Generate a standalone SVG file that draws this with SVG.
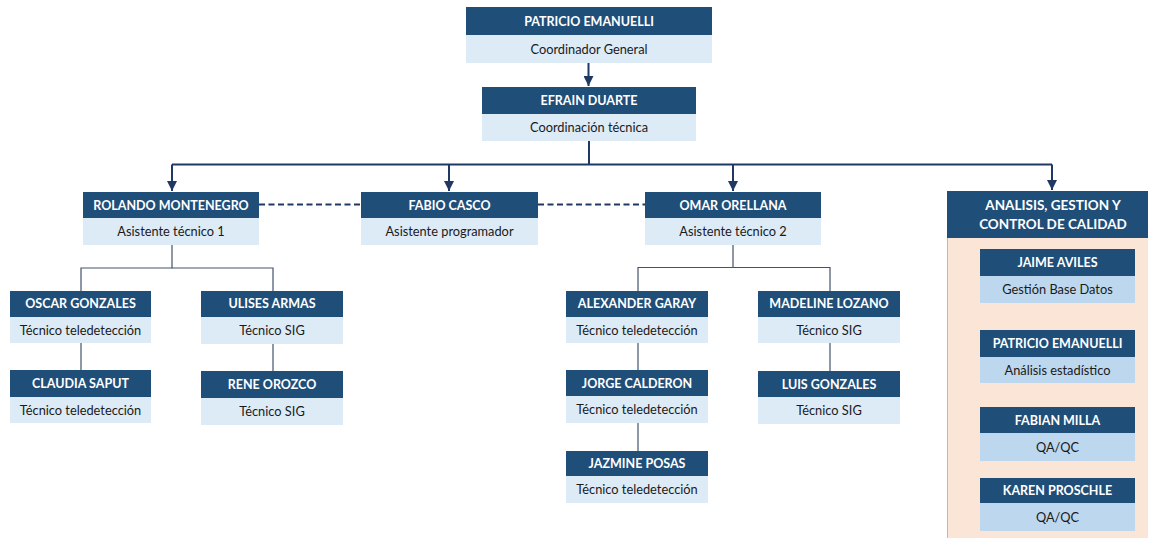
<svg xmlns="http://www.w3.org/2000/svg" width="1151" height="538" viewBox="0 0 1151 538">
<defs>
<style>
.h{fill:#1F4E79}
.s{fill:#DDEBF7}
.s2{fill:#BDD7EE}
.ht{fill:#fff;font-family:Lato,"Liberation Sans",sans-serif;font-weight:bold;font-size:12.5px;text-anchor:middle}
.st{fill:#1a1a1a;font-family:Lato,"Liberation Sans",sans-serif;font-size:12.8px;text-anchor:middle}
.pt{fill:#fff;font-family:Lato,"Liberation Sans",sans-serif;font-weight:bold;font-size:13.5px;text-anchor:middle}
.main{stroke:#1F3864;stroke-width:2;fill:none}
.sub{stroke:#44546A;stroke-width:1.2;fill:none}
.dash{stroke:#1F3864;stroke-width:1.8;stroke-dasharray:6,3.5;fill:none}
</style>
<marker id="arr" viewBox="0 0 10 10" refX="10" refY="5" markerWidth="5" markerHeight="5" orient="auto">
<path d="M0,0 L10,5 L0,10 z" fill="#1F3864"/>
</marker>
</defs>
<rect width="1151" height="538" fill="#fff"/>

<g id="panel">
<rect x="947" y="238" width="201" height="300" fill="#FBE5D6"/>
<line x1="947.5" y1="238" x2="947.5" y2="538" stroke="#9DC3E6" stroke-width="1"/>
<rect class="h" x="947" y="191" width="201" height="47"/>
<text class="pt" x="1053" y="210">ANALISIS, GESTION Y</text>
<text class="pt" x="1053" y="229">CONTROL DE CALIDAD</text>
</g>

<g id="connectors">
<line class="main" x1="588.5" y1="63" x2="588.5" y2="86" marker-end="url(#arr)"/>
<polyline class="main" points="589,141 589,164.5"/>
<line class="main" x1="172" y1="164.5" x2="1052" y2="164.5"/>
<line class="main" x1="172" y1="164.5" x2="172" y2="191" marker-end="url(#arr)"/>
<line class="main" x1="449" y1="164.5" x2="449" y2="191" marker-end="url(#arr)"/>
<line class="main" x1="733" y1="164.5" x2="733" y2="191" marker-end="url(#arr)"/>
<line class="main" x1="1052" y1="164.5" x2="1052" y2="190" marker-end="url(#arr)"/>
<line class="dash" x1="259" y1="204.5" x2="361" y2="204.5"/>
<line class="dash" x1="538" y1="204.5" x2="645" y2="204.5"/>
<polyline class="sub" points="172,245 172,268 81,268 81,291"/>
<polyline class="sub" points="172,268 273,268 273,291"/>
<line class="sub" x1="81" y1="343" x2="81" y2="370"/>
<line class="sub" x1="273" y1="344" x2="273" y2="371"/>
<polyline class="sub" points="733,245 733,267.5 638,267.5 638,291"/>
<polyline class="sub" points="733,267.5 830,267.5 830,291"/>
<line class="sub" x1="638" y1="343" x2="638" y2="370"/>
<line class="sub" x1="638" y1="423" x2="638" y2="451"/>
<line class="sub" x1="830" y1="343" x2="830" y2="371"/>
</g>

<g id="n-patricio">
<rect class="h" x="466" y="7" width="246" height="28"/>
<rect class="s" x="466" y="35" width="246" height="28"/>
<text class="ht" x="589" y="25.5">PATRICIO EMANUELLI</text>
<text class="st" x="589" y="53.5">Coordinador General</text>
</g>
<g id="n-efrain">
<rect class="h" x="482" y="87" width="214" height="27"/>
<rect class="s" x="482" y="114" width="214" height="27"/>
<text class="ht" x="589" y="105">EFRAIN DUARTE</text>
<text class="st" x="589" y="132">Coordinación técnica</text>
</g>
<g id="n-rolando">
<rect class="h" x="83" y="192" width="176" height="26"/>
<rect class="s" x="83" y="218" width="176" height="27"/>
<text class="ht" x="171" y="209.5">ROLANDO MONTENEGRO</text>
<text class="st" x="171" y="236">Asistente técnico 1</text>
</g>
<g id="n-fabio">
<rect class="h" x="361" y="192" width="177" height="26"/>
<rect class="s" x="361" y="218" width="177" height="27"/>
<text class="ht" x="449.5" y="209.5">FABIO CASCO</text>
<text class="st" x="449.5" y="236">Asistente programador</text>
</g>
<g id="n-omar">
<rect class="h" x="645" y="192" width="176" height="26"/>
<rect class="s" x="645" y="218" width="176" height="27"/>
<text class="ht" x="733" y="209.5">OMAR ORELLANA</text>
<text class="st" x="733" y="236">Asistente técnico 2</text>
</g>
<g id="n-oscar">
<rect class="h" x="10" y="291" width="141" height="26"/>
<rect class="s" x="10" y="317" width="141" height="26"/>
<text class="ht" x="80.5" y="308">OSCAR GONZALES</text>
<text class="st" x="80.5" y="334.5">Técnico teledetección</text>
</g>
<g id="n-ulises">
<rect class="h" x="201" y="291" width="142" height="26"/>
<rect class="s" x="201" y="317" width="142" height="27"/>
<text class="ht" x="272" y="308">ULISES ARMAS</text>
<text class="st" x="272" y="335">Técnico SIG</text>
</g>
<g id="n-claudia">
<rect class="h" x="10" y="370" width="141" height="27"/>
<rect class="s" x="10" y="397" width="141" height="26"/>
<text class="ht" x="80.5" y="388">CLAUDIA SAPUT</text>
<text class="st" x="80.5" y="414.5">Técnico teledetección</text>
</g>
<g id="n-rene">
<rect class="h" x="201" y="371" width="142" height="27"/>
<rect class="s" x="201" y="398" width="142" height="27"/>
<text class="ht" x="272" y="389">RENE OROZCO</text>
<text class="st" x="272" y="416">Técnico SIG</text>
</g>
<g id="n-alexander">
<rect class="h" x="566" y="291" width="142" height="26"/>
<rect class="s" x="566" y="317" width="142" height="26"/>
<text class="ht" x="637" y="308">ALEXANDER GARAY</text>
<text class="st" x="637" y="334.5">Técnico teledetección</text>
</g>
<g id="n-madeline">
<rect class="h" x="758" y="291" width="142" height="26"/>
<rect class="s" x="758" y="317" width="142" height="26"/>
<text class="ht" x="829" y="308">MADELINE LOZANO</text>
<text class="st" x="829" y="334.5">Técnico SIG</text>
</g>
<g id="n-jorge">
<rect class="h" x="566" y="370" width="142" height="26"/>
<rect class="s" x="566" y="396" width="142" height="27"/>
<text class="ht" x="637" y="387.5">JORGE CALDERON</text>
<text class="st" x="637" y="414">Técnico teledetección</text>
</g>
<g id="n-luis">
<rect class="h" x="758" y="371" width="142" height="26"/>
<rect class="s" x="758" y="397" width="142" height="27"/>
<text class="ht" x="829" y="388.5">LUIS GONZALES</text>
<text class="st" x="829" y="415">Técnico SIG</text>
</g>
<g id="n-jazmine">
<rect class="h" x="566" y="451" width="142" height="25"/>
<rect class="s" x="566" y="476" width="142" height="27"/>
<text class="ht" x="637" y="468">JAZMINE POSAS</text>
<text class="st" x="637" y="494">Técnico teledetección</text>
</g>
<g id="n-jaime">
<rect class="h" x="980" y="249" width="155" height="27"/>
<rect class="s2" x="980" y="276" width="155" height="27"/>
<text class="ht" x="1057.5" y="267">JAIME AVILES</text>
<text class="st" x="1057.5" y="294">Gestión Base Datos</text>
</g>
<g id="n-patricio2">
<rect class="h" x="980" y="330" width="155" height="27"/>
<rect class="s2" x="980" y="357" width="155" height="26"/>
<text class="ht" x="1057.5" y="348">PATRICIO EMANUELLI</text>
<text class="st" x="1057.5" y="374.5">Análisis estadístico</text>
</g>
<g id="n-fabian">
<rect class="h" x="980" y="407" width="155" height="26"/>
<rect class="s2" x="980" y="433" width="155" height="28"/>
<text class="ht" x="1057.5" y="424.5">FABIAN MILLA</text>
<text class="st" x="1057.5" y="451.5">QA/QC</text>
</g>
<g id="n-karen">
<rect class="h" x="980" y="478" width="155" height="25"/>
<rect class="s2" x="980" y="503" width="155" height="28"/>
<text class="ht" x="1057.5" y="495">KAREN PROSCHLE</text>
<text class="st" x="1057.5" y="521.5">QA/QC</text>
</g>
</svg>
